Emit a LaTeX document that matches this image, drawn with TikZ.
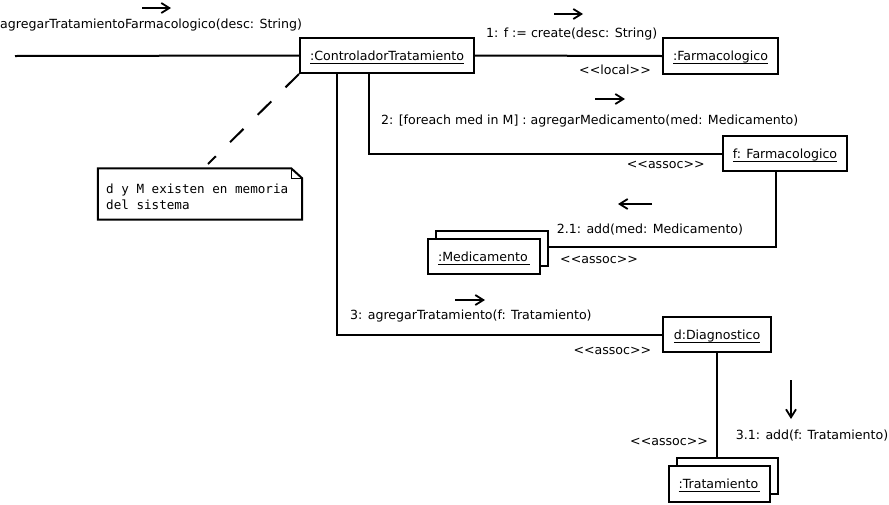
\documentclass[tikz,border=0pt]{standalone}
\usepackage{fontspec}
\setmainfont{DejaVu Sans}
\setmonofont{DejaVu Sans Mono}
\usetikzlibrary{arrows.meta}
\newcommand{\stereo}[1]{\textless{}\textless{}#1\textgreater{}\textgreater{}}
% object name with a rule drawn a little below the baseline
\newcommand{\objname}[1]{\setbox0\hbox{#1}\rlap{\raisebox{-3.6pt}{\rule{\wd0}{0.9pt}}}\box0}
\begin{document}
\begin{tikzpicture}[x=1pt,y=-1pt,
  every node/.style={font=\fontsize{12.6}{15.3}\selectfont},
  link/.style={line width=2pt},
  obj/.style={draw,line width=2pt,fill=white,inner sep=0pt,text height=12.5pt,text depth=3.3pt},
  lbl/.style={anchor=base west,inner sep=0pt},
  msg/.style={line width=1.6pt,-{Straight Barb[length=8pt,width=10pt,line width=1.8pt]}},
  notetext/.style={inner sep=0pt,font=\ttfamily\fontsize{12.6}{15.3}\selectfont,align=left,anchor=north west}
]
\useasboundingbox (0,0) rectangle (889,504);

% objects
\node[obj,minimum width=174pt,minimum height=35pt] (ctrl) at (387,55.5) {\objname{:ControladorTratamiento}};
\node[obj,minimum width=115pt,minimum height=36pt] (farm) at (720.5,56) {\objname{:Farmacologico}};
\node[obj,minimum width=124pt,minimum height=35pt] (ffarm) at (785,153.5) {\objname{f: Farmacologico}};
\node[obj,minimum width=112pt,minimum height=35pt] (medb) at (492,248.5) {};
\node[obj,minimum width=112pt,minimum height=35pt] (med) at (484,256.5) {\objname{:Medicamento\,}};
\node[obj,minimum width=108pt,minimum height=35pt] (diag) at (717,334.5) {\objname{d:Diagnostico}};
\node[obj,minimum width=101pt,minimum height=36pt] (tratb) at (727.5,476) {};
\node[obj,minimum width=101pt,minimum height=36pt] (trat) at (719.5,484) {\objname{:Tratamiento\,}};

% note with folded corner
\node[minimum width=204pt,minimum height=51pt,inner sep=0pt] (note) at (200,194) {};
\draw[line width=2pt] (note.north west) -- ([xshift=-11pt]note.north east)
  -- ([yshift=-10pt]note.north east) -- (note.south east) -- (note.south west) -- cycle;
\draw[line width=1.4pt] ([xshift=-11pt]note.north east) |- ([yshift=-10pt]note.north east);
\node[notetext] (notetxt) at (106,184) {d y M existen en memoria\\del sistema};

% helper coordinates
\coordinate (in) at (15,56);
\coordinate (c2) at (369,0);
\coordinate (c3) at (337,0);
\coordinate (c21) at (776,0);
\coordinate (medback) at ([yshift=2pt]medb.east);
\coordinate (nt) at (208,164);

% links
\draw[link] (in) -- (ctrl.west);
\draw[link] (ctrl.east) -- (farm.west);
\draw[link] (ctrl.south -| c2) |- (ffarm.west);
\draw[link] (ffarm.south -| c21) |- (medback);
\draw[link] (ctrl.south -| c3) |- (diag.west);
\draw[link] (diag.south) -- (diag.south |- tratb.north);
\draw[line width=2pt,dash pattern=on 19pt off 20pt] (ctrl.south west) -- (nt);

% message labels
\node[lbl] (m0) at (0,28.5) {agregarTratamientoFarmacologico(desc: String)};
\node[lbl] (m1) at (486,37.5) {1: f := create(desc: String)};
\node[lbl] (s1) at (579,74) {\stereo{local}};
\node[lbl] (m2) at (381,124.5) {2: [foreach med in M] : agregarMedicamento(med: Medicamento)};
\node[lbl] (s2) at (626.7,168.5) {\stereo{assoc}};
\node[lbl] (m21) at (556.7,233.5) {2.1: add(med: Medicamento)};
\node[lbl] (s21) at (560,263.5) {\stereo{assoc}};
\node[lbl] (m3) at (350,319.5) {3: agregarTratamiento(f: Tratamiento)};
\node[lbl] (s3) at (573.3,354.5) {\stereo{assoc}};
\node[lbl] (s31) at (630,445.5) {\stereo{assoc}};
\node[lbl] (m31) at (735.7,439) {3.1: add(f: Tratamiento)};

% message direction arrows
\coordinate (a0s) at (142,8);   \coordinate (a0e) at (171,8);
\coordinate (a1s) at (554,14);  \coordinate (a1e) at (583,14);
\coordinate (a2s) at (595,99);  \coordinate (a2e) at (625,99);
\coordinate (a21s) at (652,204); \coordinate (a21e) at (618,204);
\coordinate (a3s) at (455,300); \coordinate (a3e) at (485,300);
\coordinate (a31s) at (791,380); \coordinate (a31e) at (791,419);
\draw[msg] (a0s) -- (a0e);
\draw[msg] (a1s) -- (a1e);
\draw[msg] (a2s) -- (a2e);
\draw[msg] (a21s) -- (a21e);
\draw[msg] (a3s) -- (a3e);
\draw[msg] (a31s) -- (a31e);
\end{tikzpicture}
\end{document}
